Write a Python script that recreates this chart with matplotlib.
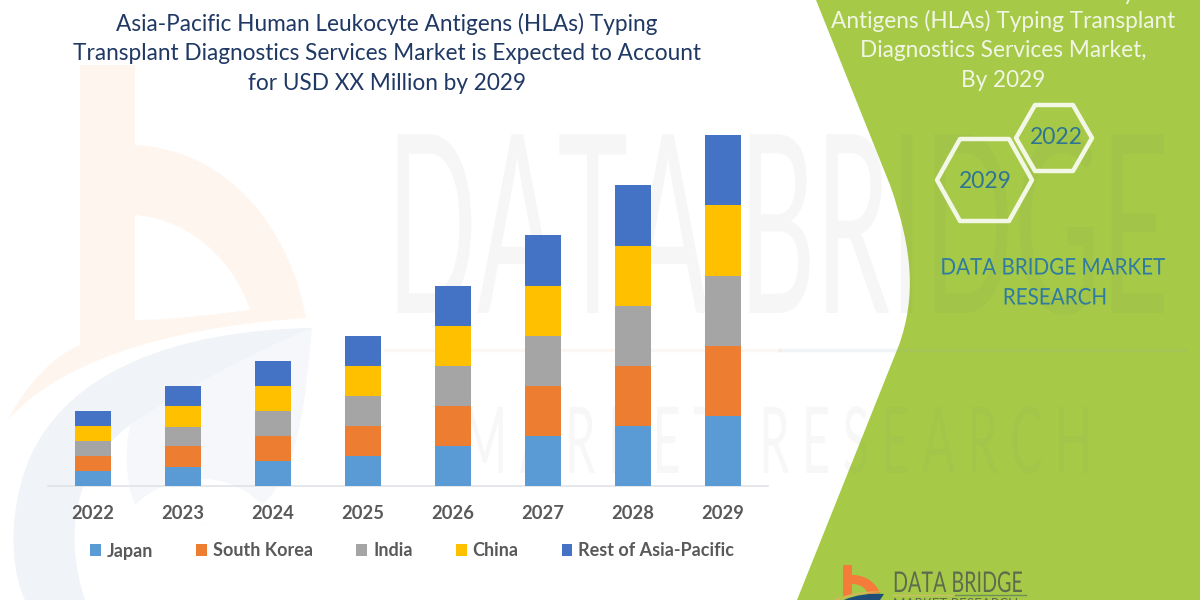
import matplotlib
matplotlib.use("Agg")
import matplotlib.pyplot as plt
from matplotlib.path import Path
from matplotlib.patches import PathPatch, Polygon
from matplotlib.patheffects import AbstractPathEffect
from matplotlib.transforms import Affine2D

plt.rcParams["font.family"] = ["Lato", "DejaVu Sans"]

# datos (sin escala en el eje, unidades relativas)
anios = ["2022", "2023", "2024", "2025", "2026", "2027", "2028", "2029"]
japan = [15, 19, 25, 30, 40, 50, 60, 70]
south_korea = [15, 21, 25, 30, 40, 50, 60, 70]
india = [15, 19, 25, 30, 40, 50, 60, 70]
china = [15, 21, 25, 30, 40, 50, 60, 71]
resto = [15, 20, 25, 30, 40, 51, 61, 70]

series = [
    ("Japan", japan, "#5B9BD5"),
    ("South Korea", south_korea, "#ED7D31"),
    ("India", india, "#A5A5A5"),
    ("China", china, "#FFC000"),
    ("Rest of Asia-Pacific", resto, "#4472C4"),
]

titulo = ("Asia-Pacific Human Leukocyte Antigens (HLAs) Typing\n"
          "Transplant Diagnostics Services Market is Expected to Account\n"
          "for USD XX Million by 2029")
lineas_verde = ["Asia-Pacific Human Leukocyte", "Antigens (HLAs) Typing Transplant",
                "Diagnostics Services Market,", "By 2029"]


# el texto de la marca de agua es muy angosto y alto, lo estiro sin perder el texto real
class Estirar(AbstractPathEffect):
    def __init__(self, sx, sy, px, py):
        super().__init__()
        self.sx, self.sy, self.x0, self.y0 = sx, sy, px, 600 - py

    def draw_path(self, renderer, gc, tpath, affine, rgbFace=None):
        extra = Affine2D().translate(-self.x0, -self.y0).scale(self.sx, self.sy).translate(self.x0, self.y0)
        renderer.draw_path(gc, tpath, affine + extra, rgbFace)


def forma(ax, pasos, **kw):
    # pasos: lista de (codigo, puntos)
    verts, codes = [], []
    for codigo, puntos in pasos:
        verts += puntos
        codes += [codigo] * len(puntos)
    ax.add_patch(PathPatch(Path(verts, codes), **kw))


M, L, C = Path.MOVETO, Path.LINETO, Path.CURVE4

fig = plt.figure(figsize=(12, 6), dpi=100)

# fondo en coordenadas de pixel
bg = fig.add_axes([0, 0, 1, 1])
bg.set_xlim(0, 1200)
bg.set_ylim(600, 0)
bg.axis("off")

# marca de agua: logo "b"
forma(bg, [(M, [(80, 65)]), (L, [(135, 65), (135, 145)]),
           (C, [(230, 150), (290, 230), (306, 318)]),
           (C, [(200, 325), (70, 350), (8, 420)]),
           (C, [(25, 385), (55, 355), (80, 345)]),
           (L, [(80, 65)]),
           (M, [(135, 215)]), (L, [(135, 320)]),
           (C, [(170, 320), (210, 315), (250, 310)]),
           (C, [(235, 265), (195, 220), (135, 215)])],
      fc="#FEF5EE", ec="none", zorder=0)
# marca de agua: arcos azules
forma(bg, [(M, [(312, 328)]),
           (C, [(180, 330), (60, 370), (25, 470)]),
           (C, [(5, 530), (15, 580), (25, 600)]),
           (L, [(85, 600)]),
           (C, [(65, 540), (70, 470), (130, 425)]),
           (C, [(190, 385), (260, 350), (312, 328)])],
      fc="#F0F3F7", ec="none", zorder=0)
forma(bg, [(M, [(130, 425)]),
           (C, [(190, 385), (260, 350), (312, 328)]),
           (C, [(305, 400), (300, 470), (262, 505)]),
           (C, [(220, 540), (160, 520), (135, 505)]),
           (C, [(125, 480), (125, 450), (130, 425)])],
      fc="#F5F7FA", ec="none", zorder=0)
forma(bg, [(M, [(135, 505)]), (C, [(160, 520), (220, 540), (262, 505)]),
           (C, [(230, 470), (170, 470), (135, 505)])],
      fc="white", ec="none", zorder=0)

# forma verde de la derecha
forma(bg, [(M, [(816, 0)]), (L, [(1200, 0), (1200, 600), (797, 600), (899, 345)]),
           (C, [(916, 297), (913, 250), (890, 185)]), (L, [(816, 0)])],
      fc="#A6CA47", ec="none", zorder=1)

# texto de marca de agua
bg.text(778, 313, "DATA BRIDGE", fontsize=85.6, color="#707070", alpha=0.06, ha="center",
        va="baseline", zorder=2, path_effects=[Estirar(1, 2.1, 778, 313)])
bg.text(778, 473, "M A R K E T   R E S E A R C H", fontsize=35, color="#707070", alpha=0.05,
        ha="center", va="baseline", zorder=2, path_effects=[Estirar(1, 1.9, 778, 473)])
bg.plot([385, 780], [350, 350], color="#F7D9C4", lw=2.5, alpha=0.2, zorder=2)
bg.plot([780, 1185], [350, 350], color="#7F9CC0", lw=2.5, alpha=0.1, zorder=2)

# titulo
bg.text(387, 53, titulo, fontsize=16.3, color="#1F3864", ha="center", va="center",
        linespacing=1.5, zorder=5)

# texto sobre el verde
for y, linea in zip([-7, 20.5, 50.5, 80.5], lineas_verde):
    bg.text(1003, y, linea, fontsize=16.3, color="#F1F6E4", ha="center", va="center", zorder=5)

# hexagonos
hex_grande = [(937, 180), (960, 139), (1009, 139), (1032, 180), (1009, 221), (960, 221)]
hex_chico = [(1016, 138), (1035, 105), (1073, 105), (1092, 138), (1073, 171), (1035, 171)]
for puntos in (hex_grande, hex_chico):
    bg.add_patch(Polygon(puntos, closed=True, fc="none", ec="#F3F7E6", lw=3.2,
                         joinstyle="round", zorder=5))
bg.text(985, 181, "2029", fontsize=16.5, color="#2F7593", ha="center", va="center", zorder=6)
bg.text(1056, 138, "2022", fontsize=16.5, color="#2F7593", ha="center", va="center", zorder=6)

bg.text(1053, 268, "DATA BRIDGE MARKET", fontsize=16.5, color="#2F7CA0", ha="center", va="center",
        zorder=6, path_effects=[Estirar(0.9, 1, 1053, 268)])
bg.text(1055, 298, "RESEARCH", fontsize=16.5, color="#2F7CA0", ha="center", va="center",
        zorder=6, path_effects=[Estirar(0.9, 1, 1055, 298)])

# logo de abajo
forma(bg, [(M, [(843, 565)]), (L, [(852, 565), (852, 575)]),
           (C, [(866, 575), (876, 583), (880, 593)]),
           (L, [(868, 594)]),
           (C, [(866, 588), (860, 584), (852, 584)]),
           (L, [(852, 595), (843, 597), (843, 565)])],
      fc="#F47B3A", ec="none", zorder=5)
forma(bg, [(M, [(833, 600)]), (C, [(850, 593), (870, 590), (886, 592)]),
           (C, [(870, 592), (850, 595), (838, 600)]), (L, [(833, 600)])],
      fc="#D9B45A", ec="none", zorder=6)
forma(bg, [(M, [(844, 600)]), (C, [(855, 595), (870, 593), (884, 594)]),
           (L, [(880, 600), (844, 600)])],
      fc="#1F4E79", ec="none", zorder=6)
bg.text(893, 592, "DATA BRIDGE", fontsize=14.2, color="#5E6B4E", ha="left", va="baseline",
        zorder=6, path_effects=[Estirar(1, 1.45, 893, 592)])
bg.plot([893, 955], [594.5, 594.5], color="#C9BE6A", lw=1, zorder=6)
bg.plot([955, 1026], [594.5, 594.5], color="#6E8B5A", lw=1, zorder=6)
bg.text(893, 608.5, "MARKET RESEARCH", fontsize=9.6, color="#5E6B4E", ha="left", va="baseline", zorder=6)

# grafico de barras apiladas
ax = fig.add_axes([48 / 1200, 1 - 486 / 600, 720 / 1200, 366 / 600])
ax.patch.set_alpha(0)
posiciones = list(range(len(anios)))
base = [0] * len(anios)
for nombre, valores, color in series:
    ax.bar(posiciones, valores, width=0.41, bottom=base, color=color, label=nombre, zorder=3)
    base = [b + v for b, v in zip(base, valores)]

ax.set_xlim(-0.5, 7.5)
ax.set_ylim(0, 366)
ax.set_xticks(posiciones)
ax.set_xticklabels(anios, fontsize=13.2, fontweight="bold", color="#595959")
ax.tick_params(axis="x", length=0, pad=14)
ax.set_yticks([])
for lado in ["top", "left", "right"]:
    ax.spines[lado].set_visible(False)
ax.spines["bottom"].set_color("#E0E3E6")
ax.spines["bottom"].set_linewidth(1.2)

ax.legend(ncols=5, loc="center left", bbox_to_anchor=(42 / 720, -65 / 366), frameon=False,
          borderaxespad=0, borderpad=0, prop={"size": 13, "weight": "bold"}, labelcolor="#595959",
          handlelength=0.6, handleheight=0.6, handletextpad=0.33, columnspacing=2.39)

fig.savefig("out.png", dpi=100)
